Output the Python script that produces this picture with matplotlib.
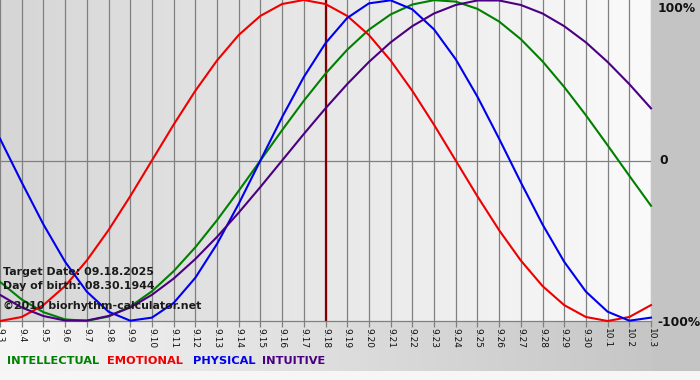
import numpy as np
import matplotlib
matplotlib.use('Agg')
import matplotlib.pyplot as plt
from matplotlib.colors import LinearSegmentedColormap
from matplotlib.patches import Rectangle

# ---------------- data ----------------
dates = ['9.3', '9.4', '9.5', '9.6', '9.7', '9.8', '9.9', '9.10', '9.11', '9.12',
         '9.13', '9.14', '9.15', '9.16', '9.17', '9.18', '9.19', '9.20', '9.21',
         '9.22', '9.23', '9.24', '9.25', '9.26', '9.27', '9.28', '9.29', '9.30',
         '10.1', '10.2', '10.3']

intellectual = [-0.756, -0.866, -0.945, -0.990, -0.999, -0.972, -0.910, -0.815,
                -0.690, -0.541, -0.372, -0.189, 0.000, 0.189, 0.372, 0.541,
                0.690, 0.815, 0.910, 0.972, 0.999, 0.990, 0.945, 0.866, 0.756,
                0.618, 0.458, 0.282, 0.095, -0.095, -0.282]

emotional = [-1.000, -0.975, -0.901, -0.782, -0.623, -0.434, -0.223, 0.000,
             0.223, 0.434, 0.623, 0.782, 0.901, 0.975, 1.000, 0.975, 0.901,
             0.782, 0.623, 0.434, 0.223, 0.000, -0.223, -0.434, -0.623, -0.782,
             -0.901, -0.975, -1.000, -0.975, -0.901]

physical = [0.136, -0.136, -0.398, -0.631, -0.817, -0.942, -0.998, -0.979,
            -0.888, -0.731, -0.520, -0.270, 0.000, 0.270, 0.520, 0.731, 0.888,
            0.979, 0.998, 0.942, 0.817, 0.631, 0.398, 0.136, -0.136, -0.398,
            -0.631, -0.817, -0.942, -0.998, -0.979]

intuitive = [-0.837, -0.916, -0.969, -0.997, -0.997, -0.969, -0.916, -0.837,
             -0.736, -0.614, -0.476, -0.325, -0.165, 0.000, 0.165, 0.325,
             0.476, 0.614, 0.736, 0.837, 0.916, 0.969, 0.997, 0.997, 0.969,
             0.916, 0.837, 0.736, 0.614, 0.476, 0.325]

series_names = ['INTELLECTUAL', 'EMOTIONAL', 'PHYSICAL', 'INTUITIVE']
series_colors = ['#008000', '#ee0000', '#0000ee', '#4b0082']
target_date = '9.18'
y_labels = ['100%', '0', '-100%']
info_lines = ['Target Date: 09.18.2025', 'Day of birth: 08.30.1944',
              '\u00a92010 biorhythm-calculator.net']

# ---------------- figure ----------------
W, H = 700, 380
fig = plt.figure(figsize=(W / 100, H / 100), dpi=100)

# background
bg = fig.add_axes([0, 0, 1, 1], zorder=-10)
bg.set_xlim(0, 1)
bg.set_ylim(0, 1)
bg.axis('off')
grad = np.linspace(0, 1, 256).reshape(1, -1)
bg_cmap = LinearSegmentedColormap.from_list('bg', ['#f6f6f6', '#c6c6c6'])
bg.imshow(grad, aspect='auto', cmap=bg_cmap, extent=[0, 652 / W, 0, 1])
bg.add_patch(Rectangle((652 / W, 0), 1, 1, color='#c4c4c4', lw=0))
bg.add_patch(Rectangle((0, 0), 1, 9 / H, color='#f6f6f6', lw=0))

# main plot
ax = fig.add_axes([0, (H - 321) / H, 651 / W, 321 / H])
x = np.arange(len(dates))
ax.set_xlim(0, len(dates) - 1)
ax.set_ylim(-1, 1)
plot_cmap = LinearSegmentedColormap.from_list('pl', ['#d6d6d6', '#fafafa'])
ax.imshow(grad, aspect='auto', cmap=plot_cmap,
          extent=[0, len(dates) - 1, -1, 1], zorder=0)

for xi in x:
    ax.axvline(xi, color='#808080', lw=0.9, zorder=1)
ax.axhline(0, color='#808080', lw=0.9, zorder=1)
ax.axhline(-1, color='#808080', lw=0.9, zorder=1, clip_on=False)

ti = dates.index(target_date)
ax.axvline(ti, color='#800000', lw=1.6, zorder=2)

for vals, col in zip([intellectual, emotional, physical, intuitive], series_colors):
    ax.plot(x, vals, color=col, lw=1.5, zorder=3, clip_on=False,
            solid_joinstyle='round')

for s in ax.spines.values():
    s.set_visible(False)
ax.set_xticks(x)
ax.set_xticklabels(dates, rotation=-90, fontsize=6.5, color='#111111',
                   family='DejaVu Sans')
ax.tick_params(axis='x', length=4, width=0.9, color='#808080', pad=1)
ax.set_yticks([])

# info text inside plot
for txt, yy in zip(info_lines, [272, 286, 306]):
    fig.text(3 / W, 1 - yy / H, txt, fontsize=7.9, fontweight='bold',
             color='#1a1a1a', va='center', ha='left', family='DejaVu Sans')

# right-side y labels
fig.text(658 / W, 1 - 2 / H, y_labels[0], fontsize=8.8, fontweight='bold',
         va='top', ha='left', color='#111111')
fig.text(659 / W, 1 - 161 / H, y_labels[1], fontsize=8.8, fontweight='bold',
         va='center', ha='left', color='#111111')
fig.text(657 / W, 1 - 322 / H, y_labels[2], fontsize=8.8, fontweight='bold',
         va='center', ha='left', color='#111111')

# legend texts
for name, col, xx in zip(series_names, series_colors, [7, 107, 193, 262]):
    fig.text(xx / W, 1 - 361 / H, name, fontsize=8.2, fontweight='bold',
             color=col, va='center', ha='left')

fig.savefig('out.png', dpi=100)
